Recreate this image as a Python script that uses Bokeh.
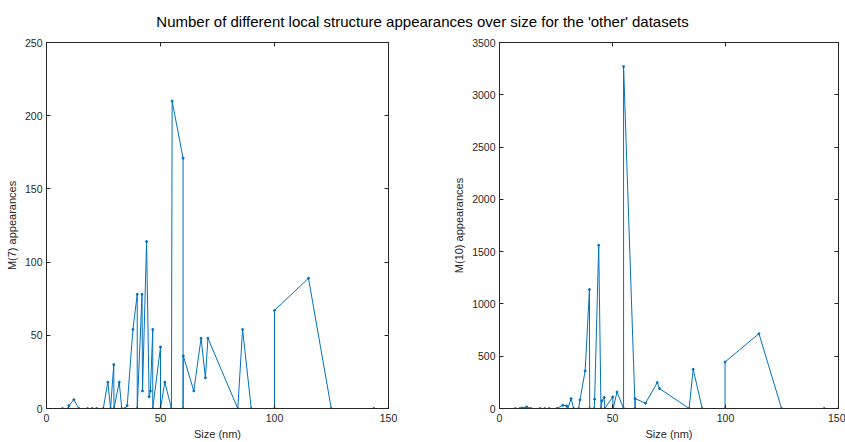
from bokeh.plotting import figure
from bokeh.models import Range1d, LinearAxis, FixedTicker, Div, CustomLabelingPolicy
from bokeh.layouts import column, row
from bokeh.embed import file_html
from bokeh.resources import INLINE

TITLE = "Number of different local structure appearances over size for the 'other' datasets"

size_m7 = [7, 9.5, 9.8, 12, 14.2, 18, 20, 22, 24.9, 26.9, 28.1, 29.5, 29.6, 31.9, 33.0, 34.4, 35.4,
           37.9, 39.8, 39.8, 41.9, 42.1, 43.9, 45.0, 45.6, 46.6, 46.6, 50.0, 50.0, 51.9, 54.8, 55.1,
           59.9, 59.9, 60.0, 64.6, 67.8, 69.7, 70.8, 83.9, 86.0, 89.8, 100, 100, 114.9, 124.9, 143.6, 150]
m7 = [0, 0, 2, 6, 0, 0, 0, 0, 0, 18, 0, 30, 0, 18, 0, 0, 2,
      54, 78, 0, 78, 12, 114, 8, 12, 54, 0, 42, 0, 18, 0, 210,
      171, 0, 36, 12, 48, 21, 48, 0, 54, 0, 0, 67, 89, 0, 0, 0]

size_m10 = [7, 9, 10, 12, 14, 18, 20, 22, 25.4, 28, 29.7, 30.2, 31.7, 32.8, 35, 35.6, 37.9, 39.8,
            39.9, 41.9, 42.1, 43.9, 44.9, 45.3, 46.3, 46.6, 50.1, 50.3, 52, 54.9, 54.9, 60, 60,
            64.6, 69.8, 70.8, 83.9, 85.7, 89.7, 99.8, 99.8, 114.8, 124.8, 143.7, 150]
m10 = [0, 0, 5, 15, 0, 0, 0, 0, 0, 31, 25, 0, 95, 0, 0, 82, 359, 1138,
       0, 0, 89, 1561, 0, 73, 105, 0, 111, 0, 158, 0, 3270, 0, 95,
       50, 248, 191, 0, 375, 0, 0, 445, 716, 0, 0, 0]

x_ticks = [0, 50, 100, 150]
y_ticks_m7 = [0, 50, 100, 150, 200, 250]
y_ticks_m10 = [0, 500, 1000, 1500, 2000, 2500, 3000, 3500]

FONT = "Liberation Sans"
AX = "#262626"
BLUE = "#0072BD"

HIDE_ALL = "for (const i of indices) { indices.unset(i) } return indices"


def style_axis(ax, show_labels=True):
    ax.axis_line_color = AX
    ax.major_tick_line_color = AX
    ax.minor_tick_line_color = None
    ax.major_tick_in = 4
    ax.major_tick_out = 0
    ax.major_label_text_font = FONT
    ax.major_label_text_color = AX
    ax.axis_label_text_font = FONT
    ax.axis_label_text_font_style = "normal"
    ax.axis_label_text_color = AX
    if show_labels:
        ax.major_label_text_font_size = "10.5px"
        ax.axis_label_text_font_size = "11px"
        ax.major_label_standoff = 5
        ax.axis_label_standoff = 3
    else:
        ax.major_label_policy = CustomLabelingPolicy(code=HIDE_ALL)
        ax.major_label_text_font_size = "10px"
        ax.major_label_text_alpha = 0
        ax.major_label_standoff = 0


def make(xs, ys, ymax, yticks, ylabel, width, left, right):
    p = figure(width=width, height=412, x_range=Range1d(0, 150), y_range=Range1d(0, ymax),
               output_backend="svg", toolbar_location=None,
               min_border_left=left, min_border_right=right, min_border_top=12, min_border_bottom=33,
               x_axis_label="Size (nm)", y_axis_label=ylabel)
    p.outline_line_color = AX
    p.xgrid.visible = False
    p.ygrid.visible = False
    p.xaxis.ticker = FixedTicker(ticks=x_ticks)
    p.yaxis.ticker = FixedTicker(ticks=yticks)
    style_axis(p.xaxis[0])
    style_axis(p.yaxis[0])
    p.yaxis[0].major_label_standoff = 4
    p.yaxis[0].axis_label_standoff = 4
    top = LinearAxis(ticker=FixedTicker(ticks=x_ticks))
    style_axis(top, False)
    p.add_layout(top, "above")
    rgt = LinearAxis(ticker=FixedTicker(ticks=yticks))
    style_axis(rgt, False)
    p.add_layout(rgt, "right")
    p.line(xs, ys, line_color=BLUE, line_width=1)
    p.scatter(xs, ys, size=2, color=BLUE)
    return p


p1 = make(size_m7, m7, 250, y_ticks_m7, "M(7) appearances", 450, 46, 62)
p2 = make(size_m10, m10, 3500, y_ticks_m10, "M(10) appearances", 395, 46, 7)

title = Div(text=TITLE, width=845, height=30, margin=0,
            styles={"font-family": FONT, "font-size": "15px", "color": "black",
                    "text-align": "center", "width": "845px", "padding-top": "11px"})

layout = column(title, row(p1, p2, spacing=0), spacing=0)

with open("out.html", "w") as f:
    f.write(file_html(layout, INLINE))
